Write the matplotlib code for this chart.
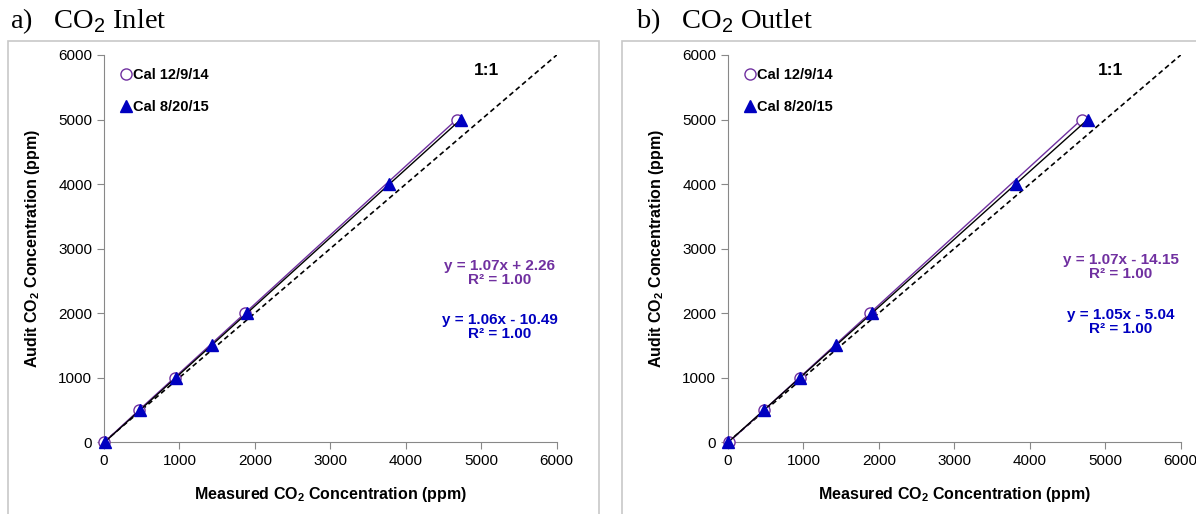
import matplotlib.pyplot as plt
from matplotlib.patches import Rectangle

plt.rcParams['font.family'] = ['Liberation Sans', 'DejaVu Sans']
plt.rcParams['mathtext.fontset'] = 'custom'
plt.rcParams['mathtext.rm'] = 'Liberation Sans'
plt.rcParams['mathtext.bf'] = 'Liberation Sans:bold'

# audit concentrations (ppm)
audit_cal1 = [0, 500, 1000, 2000, 5000]
audit_cal2 = [0, 500, 1000, 1500, 2000, 4000, 5000]

# measured concentrations (ppm)
inlet_cal1 = [5, 467, 935, 1869, 4673]
inlet_cal2 = [10, 481, 953, 1425, 1897, 3783, 4727]
outlet_cal1 = [13, 480, 948, 1882, 4686]
outlet_cal2 = [5, 481, 957, 1433, 1910, 3814, 4767]

panels = [
    ("a)   CO$_2$ Inlet", inlet_cal1, inlet_cal2,
     ["y = 1.07x + 2.26", "y = 1.06x - 10.49"]),
    ("b)   CO$_2$ Outlet", outlet_cal1, outlet_cal2,
     ["y = 1.07x - 14.15", "y = 1.05x - 5.04"]),
]

purple = "#7030A0"
blue = "#0000C0"

fig = plt.figure(figsize=(11.96, 5.14), dpi=100)

lefts = [0.087, 0.6087]
box_x = [8 / 1196, 622 / 1196]
title_x = [10 / 1196, 636 / 1196]
eq_pos = [[(5245, 2620), (5245, 1783)], [(5204, 2713), (5204, 1860)]]

for i, (title, cal1, cal2, eqs) in enumerate(panels):
    fig.patches.append(Rectangle((box_x[i], -0.01), 0.494, 0.93, transform=fig.transFigure,
                                 fill=False, edgecolor="#c8c8c8", linewidth=1.2))
    fig.text(title_x[i], 0.958, title, fontsize=20.5, family="Liberation Serif", va="center")

    ax = fig.add_axes([lefts[i], 0.140, 0.3785, 0.753])
    ax.plot([0, 6000], [0, 6000], color="black", linestyle=(0, (3, 2)), linewidth=1.2)
    ax.plot(cal1, audit_cal1, color=purple, linewidth=1.0, marker="o", markersize=8,
            markerfacecolor="white", markeredgecolor=purple, markeredgewidth=1.0,
            label="Cal 12/9/14", clip_on=False, zorder=3)
    ax.plot(cal2, audit_cal2, color="black", linewidth=1.0, marker="^", markersize=8,
            markerfacecolor=blue, markeredgecolor=blue, label="Cal 8/20/15",
            clip_on=False, zorder=4)

    ax.set_xlim(0, 6000)
    ax.set_ylim(0, 6000)
    ax.set_xticks(range(0, 6001, 1000))
    ax.set_yticks(range(0, 6001, 1000))
    ax.tick_params(labelsize=11, direction="out", length=5, color="#888888")
    for s in ["top", "right"]:
        ax.spines[s].set_visible(False)
    for s in ["left", "bottom"]:
        ax.spines[s].set_color("#888888")
    ax.set_xlabel(r"Measured CO$_\mathbf{2}$ Concentration (ppm)", fontsize=11.5,
                  fontweight="bold", labelpad=12)
    ax.set_ylabel(r"Audit CO$_\mathbf{2}$ Concentration (ppm)", fontsize=11.5,
                  fontweight="bold", labelpad=12)

    leg = ax.legend(loc="upper left", frameon=False, prop={"weight": "bold", "size": 10.5},
                    handlelength=0.6, handletextpad=0.2, labelspacing=1.2,
                    bbox_to_anchor=(0.01, 1.0))
    for line in leg.get_lines():
        line.set_linestyle("none")

    ax.text(5073, 5767, "1:1", fontsize=12.5, fontweight="bold", ha="center", va="center")
    (x1, y1), (x2, y2) = eq_pos[i]
    ax.text(x1, y1, eqs[0] + "\nR² = 1.00", color=purple, fontsize=11,
            fontweight="bold", ha="center", va="center", linespacing=1.05)
    ax.text(x2, y2, eqs[1] + "\nR² = 1.00", color=blue, fontsize=11,
            fontweight="bold", ha="center", va="center", linespacing=1.05)

fig.savefig("out.png", dpi=100)
